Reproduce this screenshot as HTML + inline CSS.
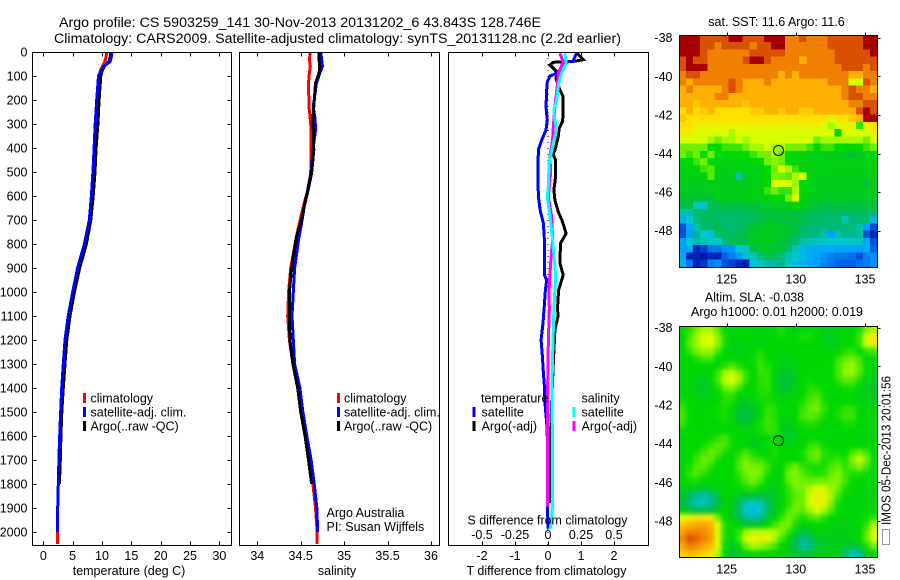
<!DOCTYPE html>
<html lang="en">
<head>
<meta charset="utf-8">
<title>Argo profile 5903259_141</title>
<style>
html,body{margin:0;padding:0;background:#fff;}
svg{display:block;}
text{font-family:"Liberation Sans",sans-serif;font-size:12.5px;fill:#000;}
</style>
</head>
<body>
<svg id="chart" xmlns="http://www.w3.org/2000/svg" width="900" height="580" viewBox="0 0 900 580">
<defs>
<filter id="sla-smooth" x="-5%" y="-5%" width="110%" height="110%" color-interpolation-filters="sRGB"><feGaussianBlur stdDeviation="2.2"/></filter>
<clipPath id="sla-clip"><rect x="679.5" y="326.5" width="198" height="231"/></clipPath>
</defs>
<rect width="900" height="580" fill="#fff"/>
<text x="59" y="27" textLength="482" lengthAdjust="spacingAndGlyphs" style="font-size:13.5px">Argo profile: CS 5903259_141 30-Nov-2013 20131202_6 43.843S 128.746E</text>
<text x="54" y="43" textLength="567" lengthAdjust="spacingAndGlyphs" style="font-size:13.5px">Climatology: CARS2009. Satellite-adjusted climatology: synTS_20131128.nc (2.2d earlier)</text>
<g id="layer-maps"></g>
<g clip-path="url(#sla-clip)"><g id="layer-sla" filter="url(#sla-smooth)"></g></g>
<g id="layer-lines"></g>
<g id="layer-axes"></g>

<text x="129" y="575" text-anchor="middle">temperature (deg C)</text>
<text x="337" y="575" text-anchor="middle">salinity</text>
<text x="546.5" y="575" text-anchor="middle" textLength="160" lengthAdjust="spacingAndGlyphs">T difference from climatology</text>
<text x="547.5" y="524.5" text-anchor="middle" textLength="160" lengthAdjust="spacingAndGlyphs">S difference from climatology</text>

<g>
<rect x="83" y="393" width="3" height="10" fill="#f00"/>
<text x="90.5" y="402.5">climatology</text>
<rect x="83" y="407" width="3" height="10" fill="#00f"/>
<text x="90.5" y="416.5">satellite-adj. clim.</text>
<rect x="83" y="421" width="3" height="10" fill="#000"/>
<text x="90.5" y="430.5">Argo(..raw -QC)</text>
</g>
<g>
<rect x="337" y="393" width="3" height="10" fill="#f00"/>
<text x="344" y="402.5">climatology</text>
<rect x="337" y="407" width="3" height="10" fill="#00f"/>
<text x="344" y="416.5">satellite-adj. clim.</text>
<rect x="337" y="421" width="3" height="10" fill="#000"/>
<text x="344" y="430.5">Argo(..raw -QC)</text>
</g>
<text x="326.5" y="517">Argo Australia</text>
<text x="326.5" y="531">PI: Susan Wijffels</text>

<g>
<text x="481" y="402.5">temperature</text>
<rect x="472.5" y="407" width="3" height="10" fill="#00f"/>
<text x="481.5" y="416.5">satellite</text>
<rect x="472.5" y="421" width="3" height="10" fill="#000"/>
<text x="481.5" y="430.5">Argo(-adj)</text>
<text x="581.5" y="402.5">salinity</text>
<rect x="572.5" y="407" width="3" height="10" fill="#0ff"/>
<text x="581.5" y="416.5">satellite</text>
<rect x="572.5" y="421" width="3" height="10" fill="#f0f"/>
<text x="581.5" y="430.5">Argo(-adj)</text>
</g>

<text x="776.5" y="26" text-anchor="middle">sat. SST: 11.6 Argo: 11.6</text>
<text x="754.5" y="301.5" text-anchor="middle" textLength="99" lengthAdjust="spacingAndGlyphs">Altim. SLA: -0.038</text>
<text x="777" y="316" text-anchor="middle" textLength="172" lengthAdjust="spacingAndGlyphs">Argo h1000: 0.01 h2000: 0.019</text>
<text transform="translate(890.5,525) rotate(-90)" textLength="149" lengthAdjust="spacingAndGlyphs">IMOS 05-Dec-2013 20:01:56</text>
<rect x="882.5" y="529.5" width="7" height="15" fill="#fff" stroke="#333" stroke-width="1" stroke-dasharray="1 1"/>
</svg>

<script>
/* ---- axis tick labels ---- */
const depthTicks = [0,100,200,300,400,500,600,700,800,900,1000,1100,1200,1300,1400,1500,1600,1700,1800,1900,2000];
const tempTicks = [0,5,10,15,20,25,30];
const salTicks = [34,34.5,35,35.5,36];
const salTickLabels = ['34','34.5','35','35.5','36'];
const tDiffTicks = [-2,-1,0,1,2];
const sDiffTicks = [-0.5,-0.25,0,0.25,0.5];
const sDiffLabels = ['-0.5','-0.25','0','0.25','0.5'];
const lonTicks = [125,130,135];
const latTicks = [-38,-40,-42,-44,-46,-48];

/* ---- temperature panel ---- */
const tempDepths = [0,20,40,60,80,100,200,300,400,500,600,700,800,900,1000,1100,1200,1300,1400,1500,1600,1700,1800,1900,2000,2050];
const tempClim = [10.8,10.7,10.5,10.1,9.7,9.5,9.4,9.15,8.95,8.75,8.4,8.0,7.2,6.0,5.1,4.35,3.8,3.5,3.25,2.95,2.8,2.65,2.55,2.45,2.4,2.4];
const tempSat = [11.7,11.6,11.4,10.3,9.8,9.4,9.1,8.85,8.65,8.45,8.2,7.84,7.0,5.85,5.0,4.25,3.7,3.4,3.13,2.96,2.8,2.65,2.55,2.45,2.45];
const tempArgo = [11.5,11.4,11.2,10.4,10,9.8,9.5,9.3,9,8.8,8.5,8.1,7.35,6.2,5.3,4.55,4,3.7,3.4,3.15,3,2.9,2.75];

/* ---- salinity panel ---- */
const salDepths = [0,30,60,88,130,228,280,325,408,505,575,645,713,770,900,1000,1100,1200,1300,1400,1500,1600,1700,1800,1900,2000,2050];
const salClim = [34.61,34.6,34.61,34.6,34.59,34.595,34.61,34.62,34.62,34.615,34.58,34.53,34.485,34.45,34.385,34.36,34.35,34.37,34.41,34.465,34.51,34.56,34.61,34.64,34.67,34.69,34.69];
const salSat = [34.73,34.74,34.75,34.72,34.68,34.645,34.665,34.67,34.64,34.62,34.58,34.54,34.51,34.48,34.43,34.415,34.40,34.415,34.43,34.49,34.525,34.57,34.62,34.655,34.685,34.695];
const salArgo = [34.71,34.71,34.72,34.71,34.67,34.65,34.64,34.645,34.65,34.625,34.585,34.54,34.5,34.45,34.395,34.37,34.37,34.375,34.41,34.465,34.5,34.55,34.59,34.625];

/* ---- difference panel ---- */
const tSatDepths = [4,18,39,41,87,100,124,158,228,283,325,367,408,506,603,658,714,783,880,929,950,992,1075,1130,1200,1269,1338,1394,1464,1547,1644,1783,1894,1990];
const tSatDiff = [0.87,0.82,0.76,0.6,0.3,0.06,-0.02,-0.04,-0.06,-0.02,-0.06,-0.19,-0.29,-0.31,-0.29,-0.24,-0.14,-0.11,-0.11,-0.11,-0.04,-0.08,-0.12,-0.15,-0.21,-0.17,-0.14,-0.11,-0.09,-0.04,-0.01,-0.02,-0.02,0.01];
const tArgoDepths = [4,32,39,43,54,87,110,158,186,256,290,318,353,394,429,450,519,575,617,665,707,756,797,880,929,992,1061,1103,1158,1213,1297,1394,1644,1880];
const tArgoDiff = [0.87,1.07,0.76,0.16,0.06,0.3,0.24,0.36,0.46,0.46,0.44,0.34,0.31,0.24,0.16,0.23,0.23,0.18,0.21,0.31,0.44,0.55,0.38,0.36,0.46,0.32,0.29,0.3,0.21,0.19,0.16,0.13,0.06,0.04];
const sArgoDepths = [6,40,89,144,228,311,367,436,506,603,686,783,880,992,1075,1158,1269,1394,1547,1894];
const sArgoDiff = [0.09,0.115,0.078,0.07,0.052,0.04,0.035,0.015,0.02,0.002,0.028,0.035,0.02,0.008,0.01,0.005,0,-0.002,-0.002,-0.002];
const sSatDepths = [6,47,89,130,200,242,283,325,380,464,561,603,686,783,929,992,1075,1158,1269,1394,1506,1783,1922,1990];
const sSatDiff = [0.128,0.138,0.102,0.082,0.065,0.045,0.052,0.065,0.04,0.008,0.002,-0.005,0.015,0.035,0.058,0.052,0.045,0.04,0.035,0.03,0.032,0.035,0.032,0.015];

/* ---- colour levels shared by both maps ---- */
const levelColors = ['#00009a','#0050e0','#00a0ff','#00c8d0','#00b890','#00c040','#00d800','#70f000','#d8ff00','#ffe000','#ffb000','#f08000','#d85000','#a80000'];

/* ---- satellite SST map, colour level per cell, north to south ---- */
const sstRows = [
[13,13,13,12,12,12,12,13,13,12,12,12,13,13,13,11,11,12,11,11,11,12,12,12,12,12,13,13],
[13,13,13,12,12,11,12,12,12,12,11,12,12,13,13,11,11,11,11,11,11,12,12,12,12,12,13,13],
[13,13,13,12,11,11,11,11,11,11,12,12,12,12,12,11,11,11,11,11,11,11,12,12,12,12,12,13],
[12,13,12,12,11,11,11,11,11,12,13,13,12,11,11,11,11,10,11,11,11,11,12,12,12,12,12,12],
[12,13,13,13,11,11,11,11,11,11,11,11,11,11,11,11,11,11,11,11,11,11,11,12,12,12,11,12],
[11,12,12,11,11,11,11,11,11,11,11,11,11,11,10,11,10,11,11,11,11,11,11,11,10,10,11,11],
[11,10,11,11,11,11,11,12,11,10,10,10,11,10,10,10,10,10,10,10,10,11,11,11,8,8,12,11],
[10,11,10,10,10,10,11,12,11,10,10,10,10,10,10,10,10,10,10,10,10,10,10,11,12,11,11,10],
[10,10,10,10,10,11,11,10,10,10,10,10,10,10,10,10,10,10,10,10,10,10,10,11,12,12,11,11],
[10,10,9.5,10,10,10,10,10,10,9.5,10,10,10,10,10,10,10,10,10,10,10,10,10,10,11,11,12,12],
[9,10,9,9.5,10,9,9,9,9,9,9.5,9.5,10,10,9.5,10,10,9.5,9.5,10,10,10,10,10,10,12,13,12],
[9.5,9,9,9,9,9,9,9,9,9,9,9,9,9,9,9,9,9,9,9,9,8.5,9,9,9.5,10,13,13],
[9,9,8.5,8.5,8.5,8.5,8.5,8.5,8.5,8.5,8.5,8.5,8.5,8.5,8.5,8.5,8.5,8.5,8.5,8.5,8,7.5,8,8.5,8.5,6.5,8.5,9],
[8.5,8.5,8,8,8,8,8,7.5,8,8,8,8,8,8,8,8,8,8,8,8,8,8,6,8,8,8,8,8.5],
[8,8,8,8,7.5,7,7.5,7.5,8,7.5,8,8,8,8,8,8,8,8,8,7,7.5,7.5,7.5,7.5,7.5,7.5,7,8],
[7,7,7,7,6,6,6.5,6.5,6.5,7,7.5,7.5,8,7.5,7.5,7,7,7,6.5,6,6.5,6.5,6,6,6,6,6.5,7],
[7,6.5,7,6,7,6,6,6,6,6,6.5,7,7,7.5,7,6,6,6,5.6,5.6,5.6,5.6,5.6,5.5,5,5.6,5.6,6],
[6,6,6.5,7,6,5.7,5.7,5.8,5.8,5.8,6,6,7,7.2,7,6,5.8,5.7,5.7,5.7,5.7,5.7,5.7,5.7,5.7,5.7,5.7,5.7],
[5.8,5.8,5.8,6.5,6.8,5.7,5.7,5.7,5.7,5.7,5.7,5.7,6,7,8,7.5,6.5,5.8,5.7,5.7,5.7,5.7,5.7,5.7,5.7,5.7,5.7,5.7],
[5.7,5.7,5.7,5.8,6.8,5.6,5.6,5.6,3.5,5.6,5.6,5.7,6,7.2,7,6.8,7.6,8,5.8,5.7,5.6,5.6,5.6,5.6,5.6,5.6,5.6,5.6],
[5.6,5.6,5.6,5.6,5.6,5.6,5.6,5.6,5.6,5.6,5.7,5.7,6,8,8,8,7.4,6,5.7,5.6,5.6,5.6,5.6,5.6,5.6,5.6,5,5.6],
[5.5,5.5,5.5,5.5,5.6,5.6,5.6,5.6,5.6,5.6,5.7,5.8,6.5,7,6.5,6.5,7.6,6,5.7,5.6,5.5,5.5,5.5,5.5,5.5,5.5,5.5,5.5],
[5.2,5.2,5.2,5.2,5,5.5,5.5,5.5,5.5,5.6,5.7,5.7,5.8,6,6,7,8,6,5.6,5.5,5.5,5.5,5.5,5.5,5.4,5.4,5.4,5.4],
[4.8,5,3.2,3.2,4.8,4.8,5,5,5,5,5.2,5.2,5.4,5.6,5.6,5.6,6,5.6,5.4,5.2,5,5,5,5,5,5,5,5],
[3.5,3.5,4.5,4.5,4.6,4.6,4.6,4.6,4.6,4.7,4.8,5,5,5.1,5.2,5.2,5,5,4.8,4.6,4.6,4.6,4.6,4.6,4.6,4.6,4.5,4.5],
[2.5,3,4.2,4.5,4.6,4.6,4.4,4.4,4.5,4.5,4.8,5,5.2,5.2,5,5,5,4.8,4.6,4.5,4.5,4.3,4.4,3.4,4.3,4.4,4.5,2.5],
[1,2.2,3.5,4.5,4.5,4.8,4.4,4.4,4.5,4.8,5.2,5.4,5.4,5.4,5.4,5.2,5,4.6,4.4,4.3,4.3,4.3,4.3,4.3,4.3,3.5,2,1],
[1,2,4,3,2.8,4.5,4.8,4.6,4.8,5,5.4,5.5,5.5,5.5,5.4,5.2,4.8,4.5,4.3,4.2,3.5,2,3.5,4,4,3.8,1,0.5],
[2,3,3.6,3.4,3.2,3,4.2,4.8,4.8,5,5.4,5.5,5.5,5.4,5.2,4.8,4.4,3.6,3.3,3.2,3.1,3,3,3,3.1,3.2,2.2,1],
[2,2,0.5,0.8,1.5,1.5,1.8,1.8,3,3.2,5,5.4,5.4,5.2,5.2,4.2,3.4,2.6,2.3,2.3,2.2,2.2,2.1,2.1,2,2,2.2,1.2],
[2.2,0.5,0.4,0.3,0.5,0.4,1.2,1.6,1.9,2.8,3.4,4.2,4.8,4.8,4.2,3.4,3,2.6,2.3,2,1.8,1.6,1.5,1.5,1.4,1,1.6,1.8],
[2.4,1.5,0.4,0.7,1.6,1.8,1,0.8,0.5,0.4,3,3.2,3.6,3.8,4,3.2,2.8,2.5,2.2,2,1.7,1.5,1.3,1.2,1.2,1.4,1.6,1.8]
];

/* ---- altimetry SLA map, colour level per cell, north to south ---- */
const slaRows = [
[6,6.3,7,7.5,7.6,6.8,6,5.8,6,6,6,5.8,6,6,6.3,6,5.8,6,6,6,5.7,5.6,5.8,6,6,6.2,7,7.5],
[6,6.6,7.4,8,8,7.2,6.2,5.7,5.8,6,6,5.8,5.8,6,6.1,6,6,6.2,6.2,6,5.7,5.5,5.8,6,6,6.5,8,8.8],
[6,6.8,7.4,7.9,8,7.2,6.2,5.7,5.7,5.8,5.8,5.8,5.9,6,6,6,6,6,6,5.9,5.7,5.6,5.8,6,6,6.5,8,8.6],
[6,6.5,7,7.4,7.4,6.6,6,5.7,5.7,5.8,6,6.2,6,6,5.8,5.9,6,5.9,5.9,5.9,5.8,5.9,6,6.3,6.4,6,6.4,6.6],
[6,6,6.3,6.6,6.6,6,5.9,5.8,5.8,5.8,6.1,6.4,6,5.9,5.7,5.7,5.9,5.9,5.9,5.9,6,6,6.4,6.8,7,6.6,6,6],
[6,6,6,6,6,6,6.3,6.7,6.3,6,6,6.5,6.2,6,5.6,5.5,5.8,6,6,6,6,6,6.6,7.2,7.4,6.8,6,5.8],
[6,5.9,5.8,5.8,6,6.5,7.5,7.8,7.2,6.4,6,6.4,6.4,5.9,5.4,5.3,5.7,6,6,6,6,6,6.6,7.3,7.4,6.7,5.9,5.7],
[6,5.9,5.6,5.5,5.8,6.6,7.8,8,7.5,6.4,6,6.3,6.4,5.8,5.2,5.1,5.6,6,6.1,6,6,6,6.4,6.8,6.8,6.2,5.7,5.4],
[6,5.8,5.5,5.4,5.7,6.2,7,7.3,6.6,6,6,6.3,6.4,5.8,5.3,5.2,5.7,6,6.3,6.2,6,6,6,6.2,6.2,5.9,5.5,5.2],
[6,5.9,5.7,5.6,5.8,6,6.4,6.4,6,5.9,6,6.2,6.2,5.9,5.6,5.7,5.9,6,6.5,6.6,6.1,6,5.9,6,6,5.9,5.6,5.3],
[6.2,6,5.9,5.8,5.9,6,6.3,6.2,5.6,5.4,5.8,6.1,6.2,6.1,5.9,6,6,6.2,6.7,6.9,6.2,6,6,6,6,5.9,5.7,5.5],
[6.5,6,6,6,6,6.1,6.2,6,5.3,5,5.4,6,6.4,6.3,6,6,6,6.5,6.9,7,6.4,6,6.1,6.4,6.4,6,5.9,5.8],
[6.6,6,5.9,6,6,6.1,6.2,5.9,5.1,4.9,5.3,6,6.5,6.3,6,5.9,6,6.6,6.8,6.6,6.2,6,6.2,6.5,6.5,6,5.9,5.9],
[6.5,6,5.9,6,6,6,6.1,6,5.5,5.3,5.7,6.2,6.5,6.4,5.9,5.6,5.9,6.2,6.3,6.2,6,6,6,6.2,6.2,6,5.9,5.9],
[6.1,6,6,6,6,6,6,6,5.9,5.8,6,6.2,6.4,6.4,5.7,5.4,5.7,6,6,6,6,5.9,5.9,6,6,5.8,5.7,5.9],
[6,6,6,6,6.1,6.4,6.6,6.1,6,5.9,5.7,5.8,6,6.2,5.7,5.4,5.7,6,6,6,5.9,5.8,5.8,5.9,5.9,5.8,5.8,5.9],
[6,6,6,6.2,6.5,6.8,6.6,6.1,6,5.8,5.5,5.6,5.9,6.2,5.9,5.8,5.9,6,6.4,6.5,6.1,6,6,6,6,6,5.9,6],
[6,6,6.2,6.6,6.9,6.7,6.2,6,6.2,6.6,6.2,5.9,6,6.2,6,6,6,6.2,6.8,7,6.4,6.1,6.1,6,6.6,7,6.6,6],
[6,6,6.5,6.9,6.8,6.2,6,6,6.6,7,6.6,6.4,6.2,6.1,6,6,6,6.1,6.6,6.8,6.2,6.3,6.5,6.2,7.2,8,7,6],
[6,6.2,6.7,6.8,6.3,6,6,6,6.7,7.2,7,7,6.5,6,6,6.6,7,6.4,6.2,6.2,6.2,6.6,6.9,6.4,6.8,7.2,6.6,6],
[6,6.4,6.7,6.3,6,6,6,6,6.4,7,7.2,7,6.2,5.8,6,7,7.2,6.8,6.4,6.2,6.4,6.9,7.2,6.6,6.2,6.2,6.1,6],
[6,6.1,6.2,6,5.9,5.9,6,6,6.2,6.7,7,6.6,6,5.8,5.9,6.8,7.2,7,6.9,7,7,7.1,7.2,6.6,6,6,5.9,5.9],
[5.8,5.6,5.4,5.3,5.6,5.8,6,6,6,6.2,6.3,6,5.6,5.6,5.9,6.4,7,7.1,7.6,8,7.9,7.4,7,6.2,6,5.9,5.8,5.8],
[5.2,4.6,3.8,3.5,4,5.2,5.9,5.8,5.4,5.1,5,5.1,5.2,5.5,5.8,6.3,6.8,7,8,8.5,8.3,7.5,6.6,6,5.9,5.8,5.8,5.8],
[5,4.2,3.5,3.4,3.8,5,5.8,5.6,4.6,3.5,3,3.4,4.6,5.4,5.8,6.3,6.9,7,8,8.6,8.3,7.2,6.2,5.9,5.8,5.8,5.8,5.9],
[5.6,5.2,4.8,4.7,5,5.6,5.9,5.5,4.4,3,2.6,3,4.4,5.5,6,6.7,7,6.8,7.5,8,7.5,6.8,6,5.9,5.9,5.9,5.9,6],
[8,8.4,8.8,8.8,8.6,7,6,5.7,4.9,4,3.6,4,5,5.7,6.4,7,6.6,6.2,6.5,6.8,6.4,6,5.9,5.8,5.9,6,6.1,6.4],
[9.6,10,10.2,10.2,10,8,6.2,6,5.7,5.4,5.3,5.5,6,6.5,7,7,6.2,5.8,5.9,6,5.9,5.8,5.7,5.7,5.8,6,6.4,7.6],
[10.4,11,11,10.8,10.2,8,6.2,6,6.4,7.4,7.8,7.8,7.8,7.6,7.2,6.4,5.6,5.2,5.4,5.8,5.8,5.7,5.6,5.7,5.8,6,6.8,8],
[10.8,12,11.6,11,10.4,8.2,6.2,5.8,6.6,8,8.4,8.6,8.2,7.6,6.6,5.8,5,3.8,4.4,5.4,5.4,5.6,5.6,5.6,5.7,6,6.8,8],
[10.2,11,10.8,10.2,9.8,8,6,5.3,6,7,7.6,7.4,7,6.6,6,5.6,4.8,3.6,4.2,5.2,5.4,5.6,5.6,5.4,5,5.4,6.2,7],
[9.4,9.8,9.6,9.2,8.8,7.6,5.9,5,5.4,5.8,6,6,6,5.9,5.8,5.7,5.4,5,5.2,5.6,5.8,5.8,5.6,4.4,3.3,3.8,5.2,6]
];

/* ---- map extents (degrees) ---- */
const mapLonRange = [121.55,135.87];
const sstLatRange = [-37.86,-49.87];
const slaLatRange = [-37.91,-49.87];
const argoPosition = [128.746,-43.843];

/* ---- axis functions ---- */
function yDepth(d){return 52+d*0.24;}
function xTemp(t){return 43.3+t*5.87;}
function xSal(s){return 257.3+(s-34)*86.85;}
function xTDiff(t){return 548+t*33;}
function xSDiff(s){return 548+s*132;}
function lonX(lon){return 726.7+(lon-125)*13.83;}
function latYTop(lat){return 37.7+(-38-lat)*19.3;}
function latYBot(lat){return 327.7+(-38-lat)*19.33;}

const NS='http://www.w3.org/2000/svg';
const layerMaps=document.getElementById('layer-maps');
const layerSla=document.getElementById('layer-sla');
const layerLines=document.getElementById('layer-lines');
const layerAxes=document.getElementById('layer-axes');

function make(tag,parent,attrs){
  const el=document.createElementNS(NS,tag);
  for(const k in attrs){el.setAttribute(k,attrs[k]);}
  parent.appendChild(el);
  return el;
}
function hexToRgb(h){return [parseInt(h.slice(1,3),16),parseInt(h.slice(3,5),16),parseInt(h.slice(5,7),16)];}
function levelColor(v){
  const c=Math.max(0,Math.min(levelColors.length-1,v));
  const i=Math.min(levelColors.length-2,Math.floor(c));
  const f=c-i;
  const a=hexToRgb(levelColors[i]);
  const b=hexToRgb(levelColors[i+1]);
  return 'rgb('+Math.round(a[0]+(b[0]-a[0])*f)+','+Math.round(a[1]+(b[1]-a[1])*f)+','+Math.round(a[2]+(b[2]-a[2])*f)+')';
}

/* ---- profile drawing ---- */
function drawProfile(depths,values,xFn,color,width,name){
  const pts=[];
  for(let i=0;i<values.length;i++){
    pts.push(xFn(values[i]).toFixed(1)+','+yDepth(depths[i]).toFixed(1));
  }
  const el=make('polyline',layerLines,{points:pts.join(' '),fill:'none',stroke:color,'stroke-width':width,'shape-rendering':'crispEdges'});
  
  
}
drawProfile(tempDepths,tempClim,xTemp,'#f00',3,'temperature-climatology-line');
drawProfile(tempDepths,tempArgo,xTemp,'#000',3,'temperature-argo-line');
drawProfile(tempDepths,tempSat,xTemp,'#00f',3,'temperature-satellite-line');
drawProfile(salDepths,salClim,xSal,'#f00',3,'salinity-climatology-line');
drawProfile(salDepths,salSat,xSal,'#00f',3,'salinity-satellite-line');
drawProfile(salDepths,salArgo,xSal,'#000',3,'salinity-argo-line');

const zeroLine=make('line',layerLines,{x1:xTDiff(0),x2:xTDiff(0),y1:yDepth(0),y2:yDepth(2054),stroke:'#000','stroke-width':1,'stroke-dasharray':'1 5'});


drawProfile(tArgoDepths,tArgoDiff,xTDiff,'#000',3,'t-difference-argo-line');
drawProfile(tSatDepths,tSatDiff,xTDiff,'#00f',3,'t-difference-satellite-line');
drawProfile(sArgoDepths,sArgoDiff,xSDiff,'#f0f',3,'s-difference-argo-line');
drawProfile(sSatDepths,sSatDiff,xSDiff,'#0ff',3,'s-difference-satellite-line');

/* ---- maps ---- */
function drawMap(rows,latRange,yFn,name,parent,bleed){
  const nR=rows.length;
  const nC=rows[0].length;
  const dLon=(mapLonRange[1]-mapLonRange[0])/nC;
  const dLat=(latRange[1]-latRange[0])/nR;
  for(let r=0;r<nR;r++){
    for(let c=0;c<nC;c++){
      let xa=lonX(mapLonRange[0]+c*dLon);
      let xb=lonX(mapLonRange[0]+(c+1)*dLon);
      let ya=yFn(latRange[0]+r*dLat);
      let yb=yFn(latRange[0]+(r+1)*dLat);
      if(c===0){xa-=bleed;}
      if(c===nC-1){xb+=bleed;}
      if(r===0){ya-=bleed;}
      if(r===nR-1){yb+=bleed;}
      const cell=make('rect',parent,{x:xa.toFixed(2),y:ya.toFixed(2),width:(xb-xa+0.4).toFixed(2),height:(yb-ya+0.4).toFixed(2),fill:levelColor(rows[r][c]),'shape-rendering':'crispEdges'});
      
      
    }
  }
}
drawMap(sstRows,sstLatRange,latYTop,'sst-map-cell',layerMaps,0);
drawMap(slaRows,slaLatRange,latYBot,'sla-map-cell',layerSla,8);

/* ---- frames, ticks and tick labels ---- */
function frame(x0,y0,x1,y1,name){
  const el=make('rect',layerAxes,{x:x0,y:y0,width:x1-x0,height:y1-y0,fill:'none',stroke:'#000','stroke-width':1,'shape-rendering':'crispEdges'});
  
  
}
function tick(x1,y1,x2,y2){
  const el=make('line',layerAxes,{x1:x1,y1:y1,x2:x2,y2:y2,stroke:'#000','stroke-width':1,'shape-rendering':'crispEdges'});
  
  
}
function label(x,y,str,anchor){
  const el=make('text',layerAxes,{x:x,y:y,'text-anchor':anchor});
  el.textContent=str;
  
  
}
const P1={l:32.5,r:231.5},P2={l:239.5,r:439.5},P3={l:448.5,r:648.5},PT=52.5,PB=545.5;
frame(P1.l,PT,P1.r,PB,'temperature-panel-frame');
frame(P2.l,PT,P2.r,PB,'salinity-panel-frame');
frame(P3.l,PT,P3.r,PB,'difference-panel-frame');

depthTicks.forEach(function(d){
  const y=Math.round(yDepth(d))+0.5;
  if(d>0){tick(P1.l,y,P1.l+4,y);tick(P1.r,y,P1.r-4,y);}
  label(27.5,yDepth(d)+4.5,String(d),'end');
});
tempTicks.forEach(function(t){
  const x=Math.round(xTemp(t))+0.5;
  tick(x,PT,x,PT+4);tick(x,PB,x,PB-4);
  label(xTemp(t),560,String(t),'middle');
});
salTicks.forEach(function(s,i){
  const x=Math.round(xSal(s))+0.5;
  tick(x,PT,x,PT+4);tick(x,PB,x,PB-4);
  label(xSal(s),560,salTickLabels[i],'middle');
});
tDiffTicks.forEach(function(t){
  const x=Math.round(xTDiff(t))+0.5;
  tick(x,PT,x,PT+4);tick(x,PB,x,PB-4);
  label(xTDiff(t),560,String(t),'middle');
});
sDiffTicks.forEach(function(s,i){
  label(xSDiff(s),539,sDiffLabels[i],'middle');
});

function mapAxes(yFn,top,bottom,labelY,name){
  frame(679.5,top,877.5,bottom,name);
  lonTicks.forEach(function(lon){
    const x=Math.round(lonX(lon))+0.5;
    tick(x,top,x,top-3);
    label(lonX(lon),labelY,String(lon),'middle');
  });
  latTicks.forEach(function(lat){
    const y=Math.round(yFn(lat))+0.5;
    tick(877.5,y,880.5,y);
    label(672.5,yFn(lat)+4.5,String(lat),'end');
  });
  const mark=make('circle',layerAxes,{cx:lonX(argoPosition[0]),cy:yFn(argoPosition[1]),r:5,fill:'none',stroke:'#000','stroke-width':1});
  
  
}
mapAxes(latYTop,35.5,267.5,283.5,'sst-map-frame');
mapAxes(latYBot,326.5,557.5,573.5,'sla-map-frame');
</script>
</body>
</html>
